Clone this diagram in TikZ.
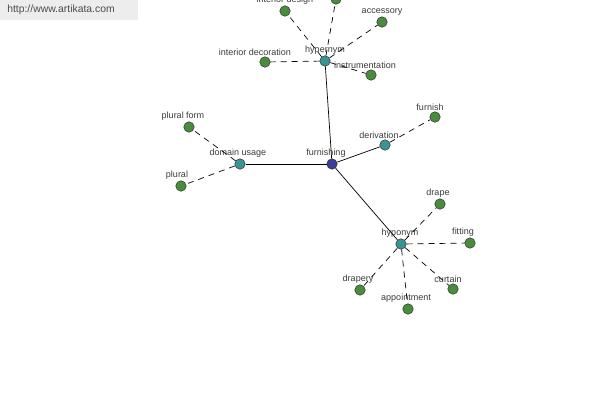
\documentclass[tikz,border=0pt]{standalone}
\usepackage{fontspec}
\setmainfont{Liberation Sans}
\usepackage{tikz}
\usetikzlibrary{positioning}

\definecolor{rootblue}{HTML}{3C3C9A}
\definecolor{relteal}{HTML}{3A9494}
\definecolor{leafgreen}{HTML}{4A8C3E}
\definecolor{lbltext}{HTML}{3A3A3A}

\begin{document}
\begin{tikzpicture}[
  x=1pt, y=-1pt,
  every node/.style={circle,draw=black!80,inner sep=0pt,minimum size=10.5pt,line width=0.5pt},
  every label/.style={draw=none,rectangle,minimum size=0pt,inner sep=1pt,text=lbltext,font=\fontsize{9}{10}\selectfont},
  label distance=0pt,
  root/.style={fill=rootblue},
  rel/.style={fill=relteal},
  leaf/.style={fill=leafgreen},
  link/.style={black,line width=0.7pt},
  dlink/.style={black,line width=0.7pt,dash pattern=on 6pt off 5pt}
]
  \clip (0,0) rectangle (600,400);
  \useasboundingbox (0,0) rectangle (600,400);

  % site banner
  \node[rectangle,draw=none,fill=black!7,minimum height=20pt,anchor=north west,
        text width=124pt,align=left,inner xsep=7pt,inner ysep=0pt,
        text=black!70,font=\fontsize{10.4}{12}\selectfont] (site) at (0,0) {http://www.artikata.com};

  % word and relation nodes
  \node[root,label={[xshift=-6pt]above:furnishing}] (furn) at (332,164) {};
  \node[rel,label=above:hypernym]     (hyper)  at (325,61)  {};
  \node[rel,label={[xshift=-2pt]above:domain usage}] (domain) at (240,164) {};
  \node[rel,label={[xshift=-6pt]above:derivation}]   (deriv)  at (385,145) {};
  \node[rel,label={[xshift=-1pt]above:hyponym}]      (hypo)   at (401,244) {};

  % leaves
  \node[leaf,label=above:interior design]  (idesign) at (285,11)  {};
  \node[leaf]                              (top)     at (336,-1)  {};
  \node[leaf,label=above:accessory]        (access)  at (382,22)  {};
  \node[leaf,label={[xshift=-10pt]above:interior decoration}] (idecor) at (265,62) {};
  \node[leaf,label={[xshift=-6pt]above:instrumentation}] (instr) at (371,75) {};
  \node[leaf,label={[xshift=-6pt]above:plural form}] (pform) at (189,127) {};
  \node[leaf,label={[xshift=-4pt]above:plural}]  (plural)  at (181,186) {};
  \node[leaf,label={[xshift=-5pt]above:furnish}] (furnish) at (435,117) {};
  \node[leaf,label={[xshift=-2pt]above:drape}]   (drape)   at (440,204) {};
  \node[leaf,label={[xshift=-7pt]above:fitting}] (fitting) at (470,243) {};
  \node[leaf,label={[xshift=-5pt]above:curtain}] (curtain) at (453,289) {};
  \node[leaf,label={[xshift=-2pt]above:appointment}] (appoint) at (408,309) {};
  \node[leaf,label={[xshift=-2pt]above:drapery}] (drapery) at (360,290) {};

  \draw[link] (furn)--(hyper);
  \draw[link] (furn)--(domain);
  \draw[link] (furn)--(deriv);
  \draw[link] (furn)--(hypo);

  \draw[dlink] (hyper)--(idesign);
  \draw[dlink] (hyper)--(top);
  \draw[dlink] (hyper)--(access);
  \draw[dlink] (hyper)--(idecor);
  \draw[dlink] (hyper)--(instr);
  \draw[dlink] (domain)--(pform);
  \draw[dlink] (domain)--(plural);
  \draw[dlink] (deriv)--(furnish);
  \draw[dlink] (hypo)--(drape);
  \draw[dlink] (hypo)--(fitting);
  \draw[dlink] (hypo)--(curtain);
  \draw[dlink] (hypo)--(appoint);
  \draw[dlink] (hypo)--(drapery);
\end{tikzpicture}
\end{document}
